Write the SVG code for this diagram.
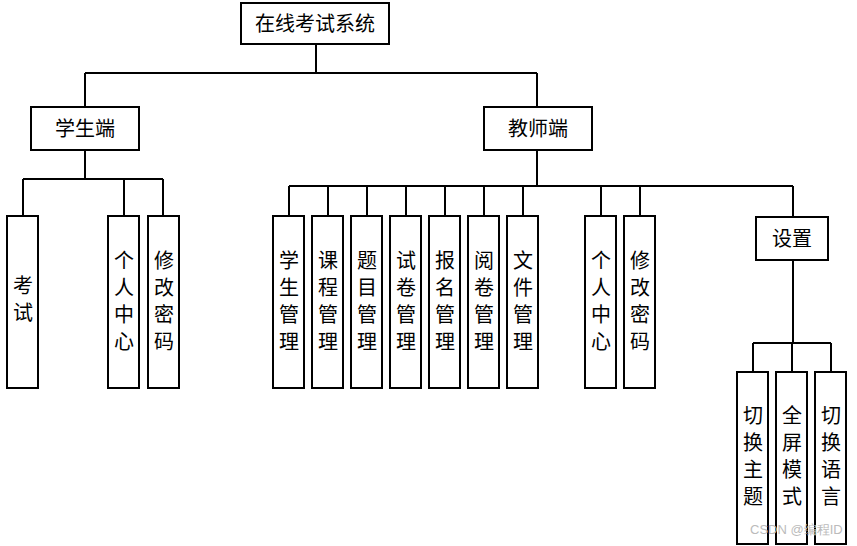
<svg xmlns="http://www.w3.org/2000/svg" width="857" height="546" viewBox="0 0 857 546">
<style>
.b{fill:#fff;stroke:#000;stroke-width:2}
.s{fill:none;stroke:#999;stroke-width:3}
.t{font-family:"Noto Sans CJK SC",sans-serif;font-size:20px;fill:#000;text-anchor:middle}
.c{fill:none;stroke:#000;stroke-width:2}
.w{font-family:"Liberation Sans",sans-serif;font-size:13px;fill:#bbb}
</style>
<g id="connectors">
<path class="c" d="M316 44V73M85 73H537M85 73V107M537 73V107M85 150V179M23 179H163M23 179V216M124 179V216M163 179V216M537 150V186M289 186H793M289 186V216M328 186V216M367 186V216M406 186V216M445 186V216M484 186V216M523 186V216M601 186V216M640 186V216M793 186V217M793 260V343M753 343H831M753 343V372M792 343V372M831 343V372"/>
</g>
<g id="root"><rect class="b" x="241" y="3" width="148" height="41"/><text class="t" x="315" y="31">在线考试系统</text></g>
<g id="student"><rect class="b" x="31" y="107" width="108" height="43"/><text class="t" x="85" y="136">学生端</text></g>
<g id="teacher"><rect class="b" x="484" y="107" width="108" height="43"/><text class="t" x="538" y="136">教师端</text></g>
<g id="settings"><rect class="b" x="756" y="217" width="72" height="43"/><text class="t" x="792" y="246">设置</text></g>
<g id="s1"><rect class="b" x="7" y="216" width="31" height="172"/><text class="t" x="23" y="293">考</text><text class="t" x="23" y="320">试</text></g>
<g id="s2"><rect class="b" x="108" y="216" width="31" height="172"/><text class="t" x="124" y="268">个</text><text class="t" x="124" y="295">人</text><text class="t" x="124" y="322">中</text><text class="t" x="124" y="349">心</text></g>
<g id="s3"><rect class="b" x="148" y="216" width="31" height="172"/><text class="t" x="164" y="268">修</text><text class="t" x="164" y="295">改</text><text class="t" x="164" y="322">密</text><text class="t" x="164" y="349">码</text></g>
<g id="t1"><rect class="b" x="273" y="216" width="31" height="172"/><text class="t" x="289" y="268">学</text><text class="t" x="289" y="295">生</text><text class="t" x="289" y="322">管</text><text class="t" x="289" y="349">理</text></g>
<g id="t2"><rect class="b" x="312" y="216" width="31" height="172"/><text class="t" x="328" y="268">课</text><text class="t" x="328" y="295">程</text><text class="t" x="328" y="322">管</text><text class="t" x="328" y="349">理</text></g>
<g id="t3"><rect class="b" x="351" y="216" width="31" height="172"/><text class="t" x="367" y="268">题</text><text class="t" x="367" y="295">目</text><text class="t" x="367" y="322">管</text><text class="t" x="367" y="349">理</text></g>
<g id="t4"><rect class="b" x="390" y="216" width="31" height="172"/><text class="t" x="406" y="268">试</text><text class="t" x="406" y="295">卷</text><text class="t" x="406" y="322">管</text><text class="t" x="406" y="349">理</text></g>
<g id="t5"><rect class="b" x="429" y="216" width="31" height="172"/><text class="t" x="445" y="268">报</text><text class="t" x="445" y="295">名</text><text class="t" x="445" y="322">管</text><text class="t" x="445" y="349">理</text></g>
<g id="t6"><rect class="b" x="468" y="216" width="31" height="172"/><text class="t" x="484" y="268">阅</text><text class="t" x="484" y="295">卷</text><text class="t" x="484" y="322">管</text><text class="t" x="484" y="349">理</text></g>
<g id="t7"><rect class="b" x="507" y="216" width="31" height="172"/><text class="t" x="523" y="268">文</text><text class="t" x="523" y="295">件</text><text class="t" x="523" y="322">管</text><text class="t" x="523" y="349">理</text></g>
<g id="t8"><rect class="b" x="585" y="216" width="31" height="172"/><text class="t" x="601" y="268">个</text><text class="t" x="601" y="295">人</text><text class="t" x="601" y="322">中</text><text class="t" x="601" y="349">心</text></g>
<g id="t9"><rect class="b" x="624" y="216" width="31" height="172"/><text class="t" x="640" y="268">修</text><text class="t" x="640" y="295">改</text><text class="t" x="640" y="322">密</text><text class="t" x="640" y="349">码</text></g>
<g id="e1"><rect class="b" x="737" y="372" width="31" height="172"/><text class="t" x="753" y="423">切</text><text class="t" x="753" y="450">换</text><text class="t" x="753" y="477">主</text><text class="t" x="753" y="504">题</text></g>
<g id="e2"><rect class="b" x="776" y="372" width="31" height="172"/><text class="t" x="792" y="423">全</text><text class="t" x="792" y="450">屏</text><text class="t" x="792" y="477">模</text><text class="t" x="792" y="504">式</text></g>
<g id="e3"><rect class="b" x="815" y="372" width="31" height="172"/><text class="t" x="831" y="423">切</text><text class="t" x="831" y="450">换</text><text class="t" x="831" y="477">语</text><text class="t" x="831" y="504">言</text></g>
<text class="w" x="750" y="534">CSDN @编程ID</text>
</svg>
